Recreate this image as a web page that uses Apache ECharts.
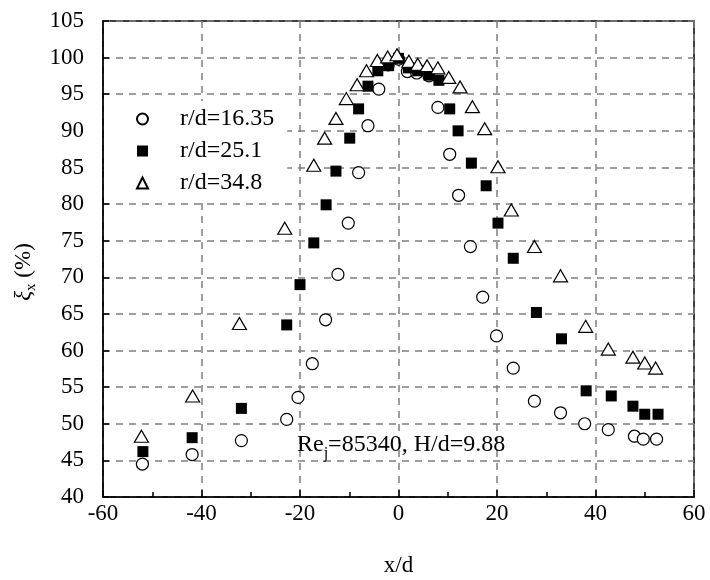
<!DOCTYPE html>
<html>
<head>
<meta charset="utf-8">
<script src="https://cdn.jsdelivr.net/npm/echarts@6/dist/echarts.min.js"></script>
<style>
  html, body { margin: 0; padding: 0; background: #fff; }
  #main { width: 710px; height: 580px; }
</style>
</head>
<body>
<div id="main"></div>
<script>
// series names
var seriesNames = ['r/d=16.35', 'r/d=25.1', 'r/d=34.8'];

// r/d=16.35 (open circles)
var xCircle = [-52, -41.9, -31.9, -22.7, -20.4, -17.5, -14.8, -12.3, -10.2, -8.1, -6.2, -4.0, -2.1, 0, 1.8, 3.7, 6.2, 8.0, 10.4, 12.2, 14.6, 17.1, 19.9, 23.3, 27.6, 32.9, 37.8, 42.6, 47.9, 49.7, 52.4];
var yCircle = [44.5, 45.8, 47.7, 50.6, 53.6, 58.2, 64.2, 70.4, 77.4, 84.3, 90.7, 95.7, 99.0, 99.8, 98.1, 97.9, 97.5, 93.2, 86.8, 81.2, 74.2, 67.3, 62.0, 57.6, 53.1, 51.5, 50.0, 49.2, 48.3, 47.9, 47.9];

// r/d=25.1 (filled squares)
var xSquare = [-51.9, -41.9, -31.9, -22.7, -20.0, -17.2, -14.7, -12.7, -9.9, -8.1, -6.2, -4.2, -2.0, 0, 2.0, 3.9, 6.2, 8.2, 10.4, 12.1, 14.8, 17.8, 20.2, 23.3, 28.0, 33.1, 38.1, 43.2, 47.6, 50.0, 52.7];
var ySquare = [46.2, 48.1, 52.1, 63.5, 69.0, 74.7, 79.9, 84.5, 89.0, 93.0, 96.1, 98.2, 98.9, 99.9, 98.6, 98.2, 97.6, 96.9, 93.0, 90.0, 85.6, 82.5, 77.4, 72.6, 65.2, 61.6, 54.5, 53.8, 52.4, 51.3, 51.3];

// r/d=34.8 (open triangles)
var xTriangle = [-52.2, -41.8, -32.3, -23.1, -17.2, -15.0, -12.7, -10.6, -8.4, -6.5, -4.3, -2.2, -0.3, 2.1, 3.9, 5.8, 8.0, 10.2, 12.5, 15.0, 17.5, 20.2, 22.9, 27.6, 32.9, 38.0, 42.6, 47.6, 50.0, 52.2];
var yTriangle = [48.3, 53.8, 63.7, 76.7, 85.3, 89.0, 91.7, 94.4, 96.3, 98.2, 99.6, 100.1, 100.4, 99.5, 99.1, 98.9, 98.6, 97.3, 96.0, 93.3, 90.3, 85.1, 79.2, 74.2, 70.2, 63.3, 60.2, 59.1, 58.3, 57.6];

function zip(xs, ys) {
    var out = [];
    for (var i = 0; i < xs.length; i++) {
        out.push([xs[i], ys[i]]);
    }
    return out;
}

var fontName = 'Liberation Serif';
var gridLine = { show: true, lineStyle: { color: '#7f7f7f', width: 1.5, type: [7, 6] } };

var myChart = echarts.init(document.getElementById('main'));

var option = {
    backgroundColor: '#fff',
    animation: false,
    textStyle: { fontFamily: fontName, color: '#000' },
    grid: {
        left: 103, right: 16, top: 21, bottom: 83,
        outerBoundsMode: 'none',
        show: true, borderColor: '#000', borderWidth: 1.5, backgroundColor: 'transparent'
    },
    legend: {
        orient: 'vertical',
        left: 104, top: 101,
        padding: [6, 13, 6, 32],
        backgroundColor: '#fff',
        itemWidth: 11, itemHeight: 11,
        itemGap: 8,
        data: seriesNames,
        textStyle: { fontFamily: fontName, fontSize: 24, color: '#000', lineHeight: 24, padding: [0, 0, 0, 27] }
    },
    xAxis: {
        type: 'value',
        min: -60, max: 60, interval: 20,
        name: 'x/d',
        nameLocation: 'middle',
        nameGap: 57,
        nameTextStyle: { fontFamily: fontName, fontSize: 23, color: '#000' },
        axisLine: { onZero: false, lineStyle: { color: '#000', width: 1.5 } },
        axisTick: { inside: true, length: 7, lineStyle: { color: '#000', width: 1.5 } },
        minorTick: { show: true, splitNumber: 2, length: 5, lineStyle: { color: '#000', width: 1.5 } },
        axisLabel: { fontFamily: fontName, fontSize: 23, color: '#000', margin: 5 },
        splitLine: gridLine
    },
    yAxis: {
        type: 'value',
        min: 40, max: 105, interval: 5,
        name: '{g|ξ}{s|x}{n| (%)}',
        nameLocation: 'middle',
        nameGap: 62,
        nameRotate: 90,
        nameTextStyle: {
            fontFamily: fontName, color: '#000',
            rich: {
                g: { fontFamily: fontName, fontSize: 23, fontStyle: 'italic', lineHeight: 30, verticalAlign: 'middle' },
                s: { fontFamily: fontName, fontSize: 15, lineHeight: 30, verticalAlign: 'bottom' },
                n: { fontFamily: fontName, fontSize: 23, lineHeight: 30, verticalAlign: 'middle', padding: [0, 26, 0, 0] }
            }
        },
        axisLine: { onZero: false, lineStyle: { color: '#000', width: 1.5 } },
        axisTick: { inside: true, length: 6, lineStyle: { color: '#000', width: 1.5 } },
        axisLabel: { fontFamily: fontName, fontSize: 23, color: '#000', margin: 19 },
        splitLine: gridLine
    },
    graphic: [{
        type: 'text',
        left: 297, top: 433,
        z: 100,
        style: {
            text: '{a|Re}{s|j}{a|=85340, H/d=9.88}',
            rich: {
                a: { fontFamily: fontName, fontSize: 24, fill: '#000', lineHeight: 28, verticalAlign: 'middle' },
                s: { fontFamily: fontName, fontSize: 16, fill: '#000', lineHeight: 28, verticalAlign: 'bottom', padding: [0, 0, -3, 0] }
            }
        }
    }],
    series: [{
        name: seriesNames[0],
        type: 'scatter',
        symbol: 'circle',
        symbolSize: 12,
        itemStyle: { color: '#fff', borderColor: '#000', borderWidth: 1.2, opacity: 1 },
        data: zip(xCircle, yCircle),
        z: 2
    }, {
        name: seriesNames[1],
        type: 'scatter',
        symbol: 'rect',
        symbolSize: 11,
        itemStyle: { color: '#000', borderColor: '#000', borderWidth: 0, opacity: 1 },
        data: zip(xSquare, ySquare),
        z: 3
    }, {
        name: seriesNames[2],
        type: 'scatter',
        symbol: 'triangle',
        symbolSize: [14, 12],
        itemStyle: { color: '#fff', borderColor: '#000', borderWidth: 1.2, opacity: 1 },
        data: zip(xTriangle, yTriangle),
        z: 4
    }]
};

myChart.setOption(option);
</script>
</body>
</html>
